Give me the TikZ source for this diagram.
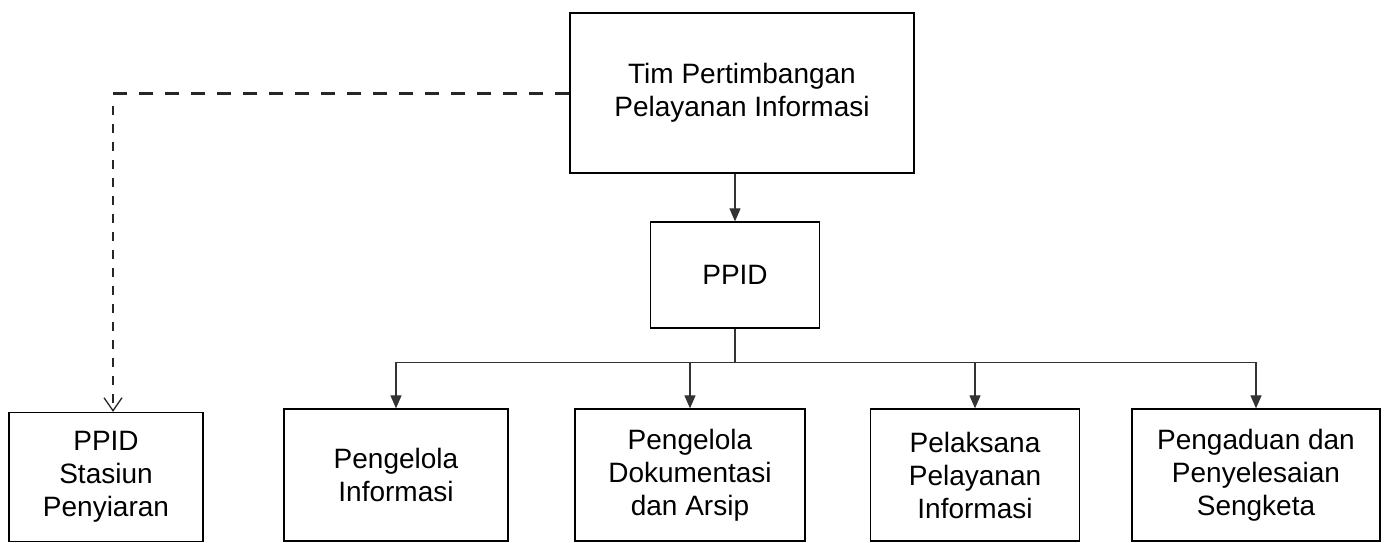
\documentclass[tikz,border=0pt]{standalone}
\usepackage{fontspec}
\setmainfont{Liberation Sans}
\usetikzlibrary{arrows.meta}
\tikzset{
  kotak/.style={draw, line width=1.3pt, align=center, minimum width=#1, inner sep=0pt, font=\fontsize{28}{33}\selectfont},
  kotak/.default=224pt,
  panah/.style={-{Triangle[length=13pt,width=11pt]}, line width=1.2pt, draw=black!80},
}

\begin{document}
\begin{tikzpicture}[x=1pt, y=-1pt,
  putus/.style={dash pattern=on 14pt off 12pt, line width=3pt, draw=black!85},
  putustipis/.style={dash pattern=on 9pt off 9pt, line width=1.3pt, draw=black!85, -{Straight Barb[length=13pt,width=18pt]}}]
  \useasboundingbox (0,0) rectangle (1390,542);
  \node[kotak=344pt, minimum height=160pt] (tim) at (742,93) {Tim Pertimbangan\\Pelayanan Informasi};
  \node[kotak=169pt, minimum height=106pt] (ppid) at (735,275) {PPID};
  \node[kotak=194pt, minimum height=129pt] (stasiun) at (106,477) {PPID\\Stasiun\\Penyiaran};
  \node[kotak=224pt, minimum height=132pt] (k1) at (396,475) {Pengelola\\Informasi};
  \node[kotak=230pt, minimum height=132pt] (k2) at (690,475) {Pengelola\\Dokumentasi\\dan Arsip};
  \node[kotak=209pt, minimum height=132pt] (k3) at (975,475) {Pelaksana\\Pelayanan\\Informasi};
  \node[kotak=248pt, minimum height=132pt] (k4) at (1256,475) {Pengaduan dan\\Penyelesaian\\Sengketa};
  \coordinate (sudut) at (113,93);
  \coordinate (turun) at (113,106);
  \path (ppid.south) ++(0,34) coordinate (bus);
  \draw[panah] (ppid.north |- tim.south) -- (ppid.north);
  \draw[line width=1.2pt, draw=black!80] (ppid.south) -- (bus);
  \foreach \k in {k1,k2,k3,k4}
    \draw[panah] (bus) -| (\k.north);
  \draw[putus] (tim.west) -- (sudut);
  \draw[putustipis] (turun) -- (turun |- stasiun.north);
\end{tikzpicture}
\end{document}
